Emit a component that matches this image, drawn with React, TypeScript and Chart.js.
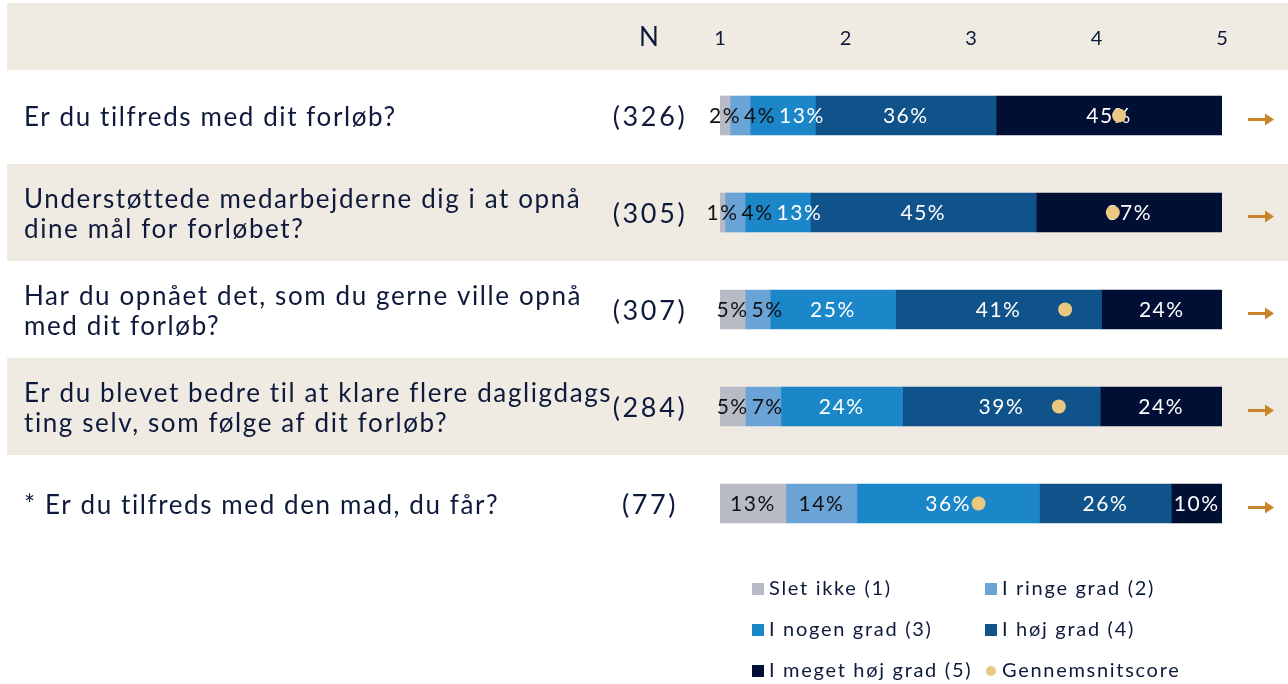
import React, { useEffect, useRef } from "react";
import { Chart, registerables } from "chart.js";

Chart.register(...registerables);

const questions: string[][] = [
  ["Er du tilfreds med dit forløb?"],
  ["Understøttede medarbejderne dig i at opnå", "dine mål for forløbet?"],
  ["Har du opnået det, som du gerne ville opnå", "med dit forløb?"],
  ["Er du blevet bedre til at klare flere dagligdags", "ting selv, som følge af dit forløb?"],
  ["* Er du tilfreds med den mad, du får?"],
];
const nValues = [326, 305, 307, 284, 77];
const sletIkke = [2, 1, 5, 5, 13];
const iRingeGrad = [4, 4, 5, 7, 14];
const iNogenGrad = [13, 13, 25, 24, 36];
const iHoejGrad = [36, 45, 41, 39, 26];
const iMegetHoejGrad = [45, 37, 24, 24, 10];
const meanScores = [4.18, 4.13, 3.75, 3.7, 3.06];
const scaleTicks = [1, 2, 3, 4, 5];
const seriesNames = [
  "Slet ikke (1)",
  "I ringe grad (2)",
  "I nogen grad (3)",
  "I høj grad (4)",
  "I meget høj grad (5)",
];
const meanName = "Gennemsnitscore";

const seriesColors = ["#B8BBC6", "#6AA3D5", "#1B86C8", "#10538A", "#000F33"];
const labelColors = ["#111111", "#111111", "#FFFFFF", "#FFFFFF", "#FFFFFF"];
const dotColor = "#EAC882";
const beige = "#EFEAE2";
const textColor = "#0E1A3B";
const arrowColor = "#C8842A";
const FONT = "Lato";

function setSpacing(ctx: any, px: number) {
  try {
    ctx.letterSpacing = `${px}px`;
  } catch (e) {
    /* ignore */
  }
}

const overlayPlugin = {
  id: "overlay",
  beforeDatasetsDraw(chart: any) {
    const ctx = chart.ctx;
    const y = chart.scales.y;
    const x2 = chart.scales.x2;
    const W = chart.width;
    ctx.save();
    ctx.fillStyle = beige;
    ctx.fillRect(7, 3, W - 7, 67);
    const n = questions.length;
    const step = (y.bottom - y.top) / n;
    for (let i = 0; i < n; i++) {
      if (i % 2 === 1) {
        const c = y.getPixelForValue(i);
        ctx.fillRect(7, c - step / 2, W - 7, step);
      }
    }
    ctx.fillStyle = textColor;
    ctx.textAlign = "center";
    ctx.textBaseline = "middle";
    setSpacing(ctx, 0);
    ctx.font = `26px ${FONT}`;
    ctx.fillText("N", 649, 38);
    ctx.font = `20px ${FONT}`;
    scaleTicks.forEach((t) => {
      ctx.fillText(String(t), x2.getPixelForValue(t), 39);
    });
    for (let i = 0; i < n; i++) {
      const c = y.getPixelForValue(i) + 2;
      const lines = questions[i];
      const lh = 30;
      ctx.textAlign = "left";
      ctx.font = `26px ${FONT}`;
      setSpacing(ctx, 1.6);
      lines.forEach((ln, k) => {
        ctx.fillText(ln, 24, c + (k - (lines.length - 1) / 2) * lh);
      });
      ctx.textAlign = "center";
      ctx.font = `27px ${FONT}`;
      setSpacing(ctx, 2.6);
      ctx.fillText(`(${nValues[i]})`, 650, c);
    }
    ctx.restore();
  },
  beforeDatasetDraw(chart: any, args: any) {
    if (args.index !== 5) return;
    const ctx = chart.ctx;
    ctx.save();
    ctx.textAlign = "left";
    ctx.textBaseline = "middle";
    ctx.font = `21px ${FONT}`;
    setSpacing(ctx, 1.5);
    const raw = [sletIkke, iRingeGrad, iNogenGrad, iHoejGrad, iMegetHoejGrad];
    const nRows = questions.length;
    for (let i = 0; i < nRows; i++) {
      let prevRight = -Infinity;
      for (let d = 0; d < 5; d++) {
        const bar: any = chart.getDatasetMeta(d).data[i];
        const txt = `${raw[d][i]}%`;
        const w = ctx.measureText(txt).width;
        const cx = (bar.x + bar.base) / 2;
        const left = Math.max(cx - w / 2, prevRight + 3);
        ctx.fillStyle = labelColors[d];
        ctx.fillText(txt, left, bar.y + 1);
        prevRight = left + w;
      }
    }
    ctx.restore();
  },
  afterDraw(chart: any) {
    const ctx = chart.ctx;
    const y = chart.scales.y;
    ctx.save();
    ctx.strokeStyle = arrowColor;
    ctx.fillStyle = arrowColor;
    ctx.lineWidth = 3;
    for (let i = 0; i < questions.length; i++) {
      const c = y.getPixelForValue(i) + 4;
      ctx.beginPath();
      ctx.moveTo(1248, c);
      ctx.lineTo(1266, c);
      ctx.stroke();
      ctx.beginPath();
      ctx.moveTo(1274, c);
      ctx.lineTo(1265, c - 6);
      ctx.lineTo(1265, c + 6);
      ctx.closePath();
      ctx.fill();
    }
    const cols = [752, 985];
    const rows = [589, 630, 671];
    const items: { label: string; color: string; dot?: boolean }[] = seriesNames.map((s, k) => ({
      label: s,
      color: seriesColors[k],
    }));
    items.push({ label: meanName, color: dotColor, dot: true });
    ctx.font = `20px ${FONT}`;
    setSpacing(ctx, 1.7);
    ctx.textAlign = "left";
    ctx.textBaseline = "middle";
    items.forEach((it, k) => {
      const cx = cols[k % 2];
      const cy = rows[Math.floor(k / 2)];
      ctx.fillStyle = it.color;
      if (it.dot) {
        ctx.beginPath();
        ctx.arc(cx + 6, cy, 5, 0, Math.PI * 2);
        ctx.fill();
      } else {
        ctx.fillRect(cx, cy - 6, 12, 12);
      }
      ctx.fillStyle = textColor;
      ctx.fillText(it.label, cx + 17, cy);
    });
    ctx.restore();
  },
};

export default function App() {
  const ref = useRef<HTMLCanvasElement>(null);
  useEffect(() => {
    document.body.style.margin = "0";
    const seriesData = [sletIkke, iRingeGrad, iNogenGrad, iHoejGrad, iMegetHoejGrad];
    const rowSums = questions.map((_, i) => seriesData.reduce((s, arr) => s + arr[i], 0));
    const datasets: any[] = seriesData.map((arr, k) => ({
      type: "bar",
      label: seriesNames[k],
      data: arr.map((v, i) => (v / rowSums[i]) * 100),
      backgroundColor: seriesColors[k],
      borderWidth: 0,
      barThickness: 39,
      xAxisID: "x",
      yAxisID: "y",
      stack: "s",
      order: 1,
    }));
    datasets.push({
      type: "line",
      label: meanName,
      data: meanScores,
      xAxisID: "x2",
      yAxisID: "y",
      showLine: false,
      pointRadius: 7,
      pointBackgroundColor: dotColor,
      pointBorderWidth: 0,
      borderColor: dotColor,
      indexAxis: "y",
      order: 0,
    });
    const chart = new Chart(ref.current!, {
      type: "bar",
      data: { labels: questions.map((q) => q.join(" ")), datasets },
      options: {
        indexAxis: "y",
        animation: false,
        responsive: false,
        layout: { padding: { left: 720, right: 66, top: 67, bottom: 132 } },
        scales: {
          x: { type: "linear", min: 0, max: 100, stacked: true, display: false },
          x2: { type: "linear", min: 1, max: 5, display: false },
          y: { type: "category", stacked: true, display: false, offset: true },
        },
        plugins: {
          legend: { display: false },
          tooltip: { enabled: false },
        },
      } as any,
      plugins: [overlayPlugin],
    });
    return () => chart.destroy();
  }, []);
  return (
    <div style={{ width: 1288, height: 684, position: "relative" }}>
      <canvas ref={ref} width={1288} height={684} style={{ display: "block" }} />
    </div>
  );
}
